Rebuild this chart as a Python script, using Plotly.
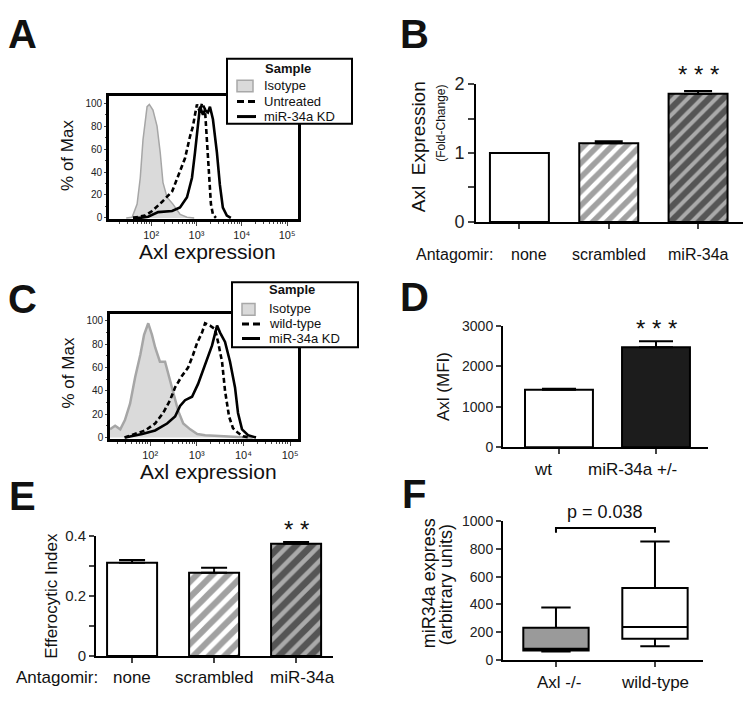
import numpy as np
import plotly.graph_objects as go

# The page adds an 8 px body margin; size the figure so the page exactly fills the window.
W, H = 735, 693
OFF = 8
FONT = "Liberation Sans, Arial, sans-serif"

# ---------------- DATA ----------------
a_iso_log = [1.45, 1.58, 1.69, 1.76, 1.82, 1.91, 1.96, 2.04, 2.13, 2.20, 2.26, 2.35, 2.48, 2.64, 2.79, 2.95]
a_iso_pct = [0, 0.5, 12, 35, 68, 97, 99, 94, 80, 57, 31, 18, 12, 3, 0.5, 0]
a_unt_log = [1.60, 1.868, 2.022, 2.242, 2.462, 2.593, 2.747, 2.857, 2.923, 2.967, 3.011, 3.077, 3.121, 3.187, 3.231, 3.275, 3.319, 3.363, 3.429]
a_unt_pct = [0, 2, 6, 14, 23, 37, 52, 71, 80, 90, 99, 92, 100, 95, 70, 40, 12, 3, 0]
a_kd_log = [1.60, 1.758, 1.934, 2.154, 2.462, 2.637, 2.791, 2.901, 2.967, 3.033, 3.077, 3.143, 3.187, 3.253, 3.297, 3.363, 3.451, 3.516, 3.582, 3.670, 3.758]
a_kd_pct = [0, 0, 1, 5, 6, 9, 18, 35, 57, 80, 97, 90, 94, 92, 97, 86, 57, 29, 9, 2, 0]

c_iso_log = [1.14, 1.25, 1.36, 1.46, 1.57, 1.68, 1.79, 1.87, 1.96, 2.04, 2.11, 2.21, 2.32, 2.39, 2.49, 2.60, 2.71, 2.86, 3.01, 3.18, 3.88, 4.2]
c_iso_pct = [7, 10, 7, 15, 29, 52, 71, 88, 98, 88, 77, 65, 65, 54, 40, 23, 12, 7, 3, 2, 0.5, 0]
c_wt_log = [1.45, 1.615, 1.893, 2.107, 2.278, 2.428, 2.535, 2.685, 2.814, 2.921, 3.006, 3.113, 3.178, 3.285, 3.392, 3.456, 3.542, 3.606, 3.692, 3.777, 3.884, 3.99, 4.14]
c_wt_pct = [0, 2, 6, 12, 21, 32, 43, 53, 60, 71, 81, 90, 98, 96, 93, 82, 65, 40, 18, 8, 4, 1, 0]
c_kd_log = [1.465, 1.829, 2.107, 2.364, 2.535, 2.642, 2.749, 2.899, 3.028, 3.178, 3.328, 3.435, 3.499, 3.606, 3.713, 3.820, 3.884, 3.970, 4.099, 4.27]
c_kd_pct = [0, 3, 6, 12, 18, 27, 32, 35, 46, 62, 79, 96, 90, 82, 65, 43, 21, 7, 2, 0]

b_cats = ["none", "scrambled", "miR-34a"]
b_vals = [1.0, 1.14, 1.86]
b_err = [0.0, 0.03, 0.04]

d_cats = ["wt", "miR-34a +/-"]
d_vals = [1420, 2470]
d_err = [25, 150]

e_cats = ["none", "scrambled", "miR-34a"]
e_vals = [0.310, 0.277, 0.373]
e_err = [0.009, 0.016, 0.006]

f_cats = ["Axl -/-", "wild-type"]
f_low = [60, 98]
f_q1 = [68, 152]
f_med = [80, 237]
f_q3 = [232, 518]
f_high = [378, 853]
f_pval = "p = 0.038"

a_legend = ["Isotype", "Untreated", "miR-34a KD"]
c_legend = ["Isotype", "wild-type", "miR-34a KD"]

log_tv = [100, 1000, 10000, 100000]
log_tt = ["10\u00b2", "10\u00b3", "10\u2074", "10\u2075"]

# ---------------- helpers (positions given in window pixels) ----------------
def px(p):
    return (p - OFF) / W

def py(p):
    return 1 - (p - OFF) / H

def dx(a, b):
    return [px(a), px(b)]

def dy(top, bottom):
    return [py(bottom), py(top)]

fig = go.Figure()

def hist_panel(xa, ya, iso, s2, kd, names, isow):
    fig.add_trace(go.Scatter(x=10 ** np.array(iso[0]), y=iso[1], mode="lines", fill="tozeroy",
                             fillcolor="#dadada", line=dict(color="#a6a6a6", width=isow),
                             name=names[0], xaxis=xa, yaxis=ya, showlegend=False))
    fig.add_trace(go.Scatter(x=10 ** np.array(s2[0]), y=s2[1], mode="lines",
                             line=dict(color="black", width=2.6, dash="5px,3px"),
                             name=names[1], xaxis=xa, yaxis=ya, showlegend=False))
    fig.add_trace(go.Scatter(x=10 ** np.array(kd[0]), y=kd[1], mode="lines",
                             line=dict(color="black", width=2.6),
                             name=names[2], xaxis=xa, yaxis=ya, showlegend=False))

hist_panel("x", "y", (a_iso_log, a_iso_pct), (a_unt_log, a_unt_pct), (a_kd_log, a_kd_pct), a_legend, 1.5)
hist_panel("x3", "y3", (c_iso_log, c_iso_pct), (c_wt_log, c_wt_pct), (c_kd_log, c_kd_pct), c_legend, 2.5)

def pat(size):
    return dict(shape=["", "/", "/"], fgcolor="black", size=size, solidity=[0.3, 0.55, 0.4])

fig.add_trace(go.Bar(x=list(range(len(b_cats))), y=b_vals, width=0.66,
                     marker=dict(color=["white", "white", "#555555"], line=dict(color="black", width=2),
                                 pattern=pat(10)),
                     error_y=dict(type="data", symmetric=False, array=b_err, arrayminus=[0] * 3,
                                  color="black", thickness=2, width=14),
                     xaxis="x2", yaxis="y2", showlegend=False))

fig.add_trace(go.Bar(x=list(range(len(d_cats))), y=d_vals, width=0.70,
                     marker=dict(color=["white", "#1c1c1c"], line=dict(color="black", width=2)),
                     error_y=dict(type="data", symmetric=False, array=d_err, arrayminus=[0] * 2,
                                  color="black", thickness=2, width=17),
                     xaxis="x4", yaxis="y4", showlegend=False))

fig.add_trace(go.Bar(x=list(range(len(e_cats))), y=e_vals, width=0.61,
                     marker=dict(color=["white", "white", "#555555"], line=dict(color="black", width=2),
                                 pattern=pat(11)),
                     error_y=dict(type="data", symmetric=False, array=e_err, arrayminus=[0] * 3,
                                  color="black", thickness=2, width=13),
                     xaxis="x5", yaxis="y5", showlegend=False))

f_colors = ["#9a9a9a", "white"]
for i in range(len(f_cats)):
    fig.add_trace(go.Box(x=[i], q1=[f_q1[i]], median=[f_med[i]], q3=[f_q3[i]],
                         lowerfence=[f_low[i]], upperfence=[f_high[i]],
                         width=0.66, whiskerwidth=0.45, fillcolor=f_colors[i],
                         line=dict(color="black", width=2), boxpoints=False,
                         xaxis="x6", yaxis="y6", showlegend=False, hoverinfo="skip"))

minor_log = [m * 10 ** d for d in range(1, 5) for m in range(2, 10)]

def hist_axes(xname, yname, xdom, ydom, xrng, yrng, anchor_x, anchor_y):
    fig.update_layout(**{
        xname: dict(domain=xdom, type="log", range=xrng, anchor=anchor_y,
                    showline=True, mirror=True, linecolor="black", linewidth=2.6,
                    tickvals=log_tv, ticktext=log_tt, ticks="outside", ticklen=4, tickwidth=1.2,
                    minor=dict(tickvals=minor_log, ticks="outside", ticklen=2, tickwidth=1),
                    tickfont=dict(size=11, family=FONT, color="#222"), showgrid=False, zeroline=False),
        yname: dict(domain=ydom, range=yrng, anchor=anchor_x,
                    showline=True, mirror=True, linecolor="black", linewidth=2.6,
                    tickvals=[0, 20, 40, 60, 80, 100], ticks="outside", ticklen=2, tickwidth=1.2,
                    minor=dict(dtick=10, ticks="outside", ticklen=1),
                    tickfont=dict(size=10, family=FONT, color="#222"), showgrid=False, zeroline=False),
    })

hist_axes("xaxis", "yaxis", dx(109, 298), dy(88, 215), [1.07, 5.24], [-1, 106.6], "x", "y")
hist_axes("xaxis3", "yaxis3", dx(110, 298), dy(313, 442), [1.14, 5.17], [-1.7, 105.8], "x3", "y3")

def bar_axes(xname, yname, xdom, ydom, xrng, yrng, tv, tt, mdtick, ytfs, ytl, anchor_x, anchor_y, ncat):
    fig.update_layout(**{
        xname: dict(domain=xdom, range=xrng, anchor=anchor_y, showline=True, linecolor="black",
                    linewidth=2, tickvals=list(range(ncat)), showticklabels=False, ticks="outside",
                    ticklen=5, tickwidth=1.5, showgrid=False, zeroline=False),
        yname: dict(domain=ydom, range=yrng, anchor=anchor_x, showline=True, linecolor="black",
                    linewidth=2, tickvals=tv, ticktext=tt, ticks="outside", ticklen=ytl, tickwidth=1.5,
                    minor=dict(dtick=mdtick, ticks="outside", ticklen=ytl, tickwidth=1.5) if mdtick else None,
                    tickfont=dict(size=ytfs, family=FONT, color="#222"), showgrid=False, zeroline=False),
    })

bar_axes("xaxis2", "yaxis2", dx(476, 743), dy(76, 218), [-0.486, 2.503], [0, 2],
         [0, 1, 2], ["0", "1", "2"], 0.5, 18, 6, "x2", "y2", 3)
bar_axes("xaxis4", "yaxis4", dx(503, 708), dy(325, 450), [-0.577, 1.536], [0, 3000],
         [0, 1000, 2000, 3000], ["0", "1000", "2000", "3000"], None, 14, 5, "x4", "y4", 2)
bar_axes("xaxis5", "yaxis5", dx(96, 333), dy(541, 665), [-0.44, 2.45], [0, 0.4],
         [0, 0.2, 0.4], ["0", "0.2", "0.4"], 0.1, 15, 5, "x5", "y5", 3)
bar_axes("xaxis6", "yaxis6", dx(503, 703), dy(526, 669), [-0.535, 1.485], [0, 1000],
         [0, 200, 400, 600, 800, 1000], ["0", "200", "400", "600", "800", "1000"], None, 14, 5, "x6", "y6", 2)

ann = []
shapes = []

def text(x, y, s, size, xref="paper", yref="paper", angle=0, bold=False, xanchor="center", yanchor="middle", color="#111"):
    if bold:
        s = "<b>" + s + "</b>"
    ann.append(dict(x=x, y=y, xref=xref, yref=yref, text=s, showarrow=False, textangle=angle,
                    xanchor=xanchor, yanchor=yanchor, font=dict(size=size, family=FONT, color=color)))

def legend_box(x0, y0, x1, y1, title_xy, names, sw, rows, sym_x, text_x):
    shapes.append(dict(type="rect", xref="paper", yref="paper", x0=px(x0), x1=px(x1), y0=py(y1), y1=py(y0),
                       line=dict(color="black", width=2), fillcolor="white", layer="above"))
    text(px(title_xy[0]), py(title_xy[1]), "Sample", 13, bold=True)
    shapes.append(dict(type="rect", xref="paper", yref="paper", x0=px(sw[0]), x1=px(sw[1]),
                       y0=py(sw[3]), y1=py(sw[2]), line=dict(color="#a8a8a8", width=1.5),
                       fillcolor="#dadada", layer="above"))
    shapes.append(dict(type="line", xref="paper", yref="paper", x0=px(sym_x[0]), x1=px(sym_x[1]),
                       y0=py(rows[1]), y1=py(rows[1]), line=dict(color="black", width=3, dash="7px,4px"),
                       layer="above"))
    shapes.append(dict(type="line", xref="paper", yref="paper", x0=px(sym_x[0]), x1=px(sym_x[1]),
                       y0=py(rows[2]), y1=py(rows[2]), line=dict(color="black", width=3), layer="above"))
    for r, nm in zip(rows, names):
        text(px(text_x), py(r), nm, 13, xanchor="left")

legend_box(227, 50, 352, 117, (288, 60), a_legend, (237, 253, 72, 84), [78, 94, 109.5], (237, 256), 262)
legend_box(232, 280, 358, 347, (292, 288), c_legend, (242, 255, 302, 314), [307.5, 323, 338], (242, 260), 267)

for L, xp, ypp in [("A", 22, 24), ("B", 414, 24), ("C", 22, 297), ("D", 414, 295), ("E", 22, 500), ("F", 414, 498)]:
    text(px(xp), py(ypp), L, 40, bold=True)

text(px(207), py(248), "Axl expression", 21)
text(px(208), py(475), "Axl expression", 21)
text(px(68), py(149), "% of Max", 17, angle=-90)
text(px(68), py(373), "% of Max", 17, angle=-90)

text(px(418), py(140), "Axl\u00a0 Expression", 19, angle=-90)
text(px(441), py(117), "(Fold-Change)", 12, angle=-90)
text(px(454), py(252), "Antagomir:", 16)
for i, c in enumerate(b_cats):
    text(i, py(252), c, 16, xref="x2")
ann[-3]["xshift"] = 10
text(2, py(66), "* * *", 24, xref="x2")

text(px(443), py(388), "Axl (MFI)", 17, angle=-90)
for i, c in enumerate(d_cats):
    text(i, py(473), c, 17, xref="x4")
ann[-2]["xshift"] = -16
ann[-1]["xshift"] = -24
text(1, py(328), "* * *", 24, xref="x4")

text(px(57), py(687), "Antagomir:", 17)
for i, c in enumerate(e_cats):
    text(i, py(687), c, 17, xref="x5")
ann[-1]["xshift"] = 6
text(2, py(535), "* *", 24, xref="x5")
text(px(52), py(603), "Efferocytic Index", 17, angle=-90)

text(px(429), py(590), "miR34a express", 18, angle=-90)
text(px(446), py(592), "(arbitrary units)", 18, angle=-90)
for i, c in enumerate(f_cats):
    text(i, py(692), c, 17, xref="x6")
ann[-2]["xshift"] = 3
text(0.5, py(517), f_pval, 18, xref="x6")

shapes.append(dict(type="path", xref="x6", yref="y6",
                   path="M 0,915 L 0,950 L 1,950 L 1,915",
                   line=dict(color="black", width=2)))

fig.update_layout(width=W, height=H, margin=dict(l=0, r=0, t=0, b=0),
                  paper_bgcolor="white", plot_bgcolor="white", showlegend=False,
                  annotations=ann, shapes=shapes, barmode="overlay",
                  font=dict(family=FONT, color="#111"))

fig.write_html("out.html")
